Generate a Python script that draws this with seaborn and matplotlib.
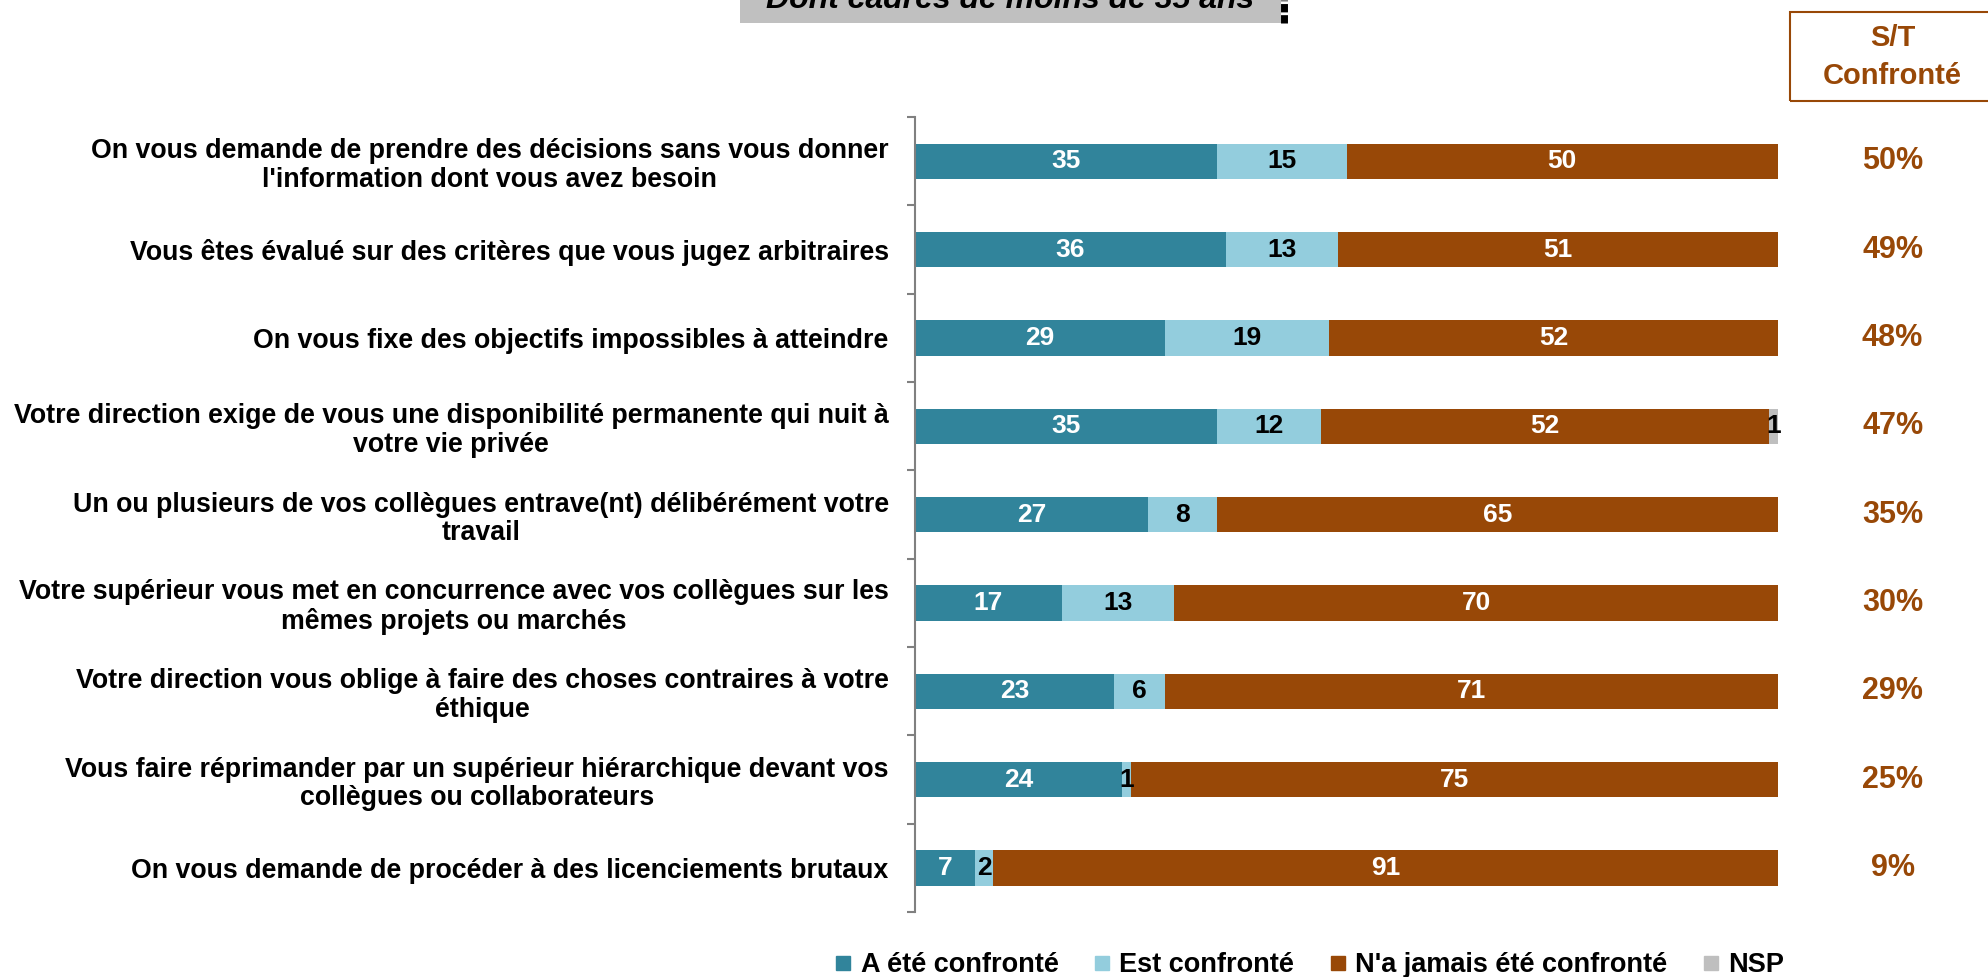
import numpy as np
import pandas as pd
import matplotlib
matplotlib.use("Agg")
import matplotlib.pyplot as plt
import seaborn as sns
from matplotlib.patches import Rectangle
from matplotlib.lines import Line2D
from matplotlib.transforms import blended_transform_factory

# --- data ---
items = [
    "On vous demande de prendre des décisions sans vous donner\nl'information dont vous avez besoin",
    "Vous êtes évalué sur des critères que vous jugez arbitraires",
    "On vous fixe des objectifs impossibles à atteindre",
    "Votre direction exige de vous une disponibilité permanente qui nuit à\nvotre vie privée",
    "Un ou plusieurs de vos collègues entrave(nt) délibérément votre\ntravail",
    "Votre supérieur vous met en concurrence avec vos collègues sur les\nmêmes projets ou marchés",
    "Votre direction vous oblige à faire des choses contraires à votre\néthique",
    "Vous faire réprimander par un supérieur hiérarchique devant vos\ncollègues ou collaborateurs",
    "On vous demande de procéder à des licenciements brutaux",
]
a_ete = [35, 36, 29, 35, 27, 17, 23, 24, 7]
est = [15, 13, 19, 12, 8, 13, 6, 1, 2]
jamais = [50, 51, 52, 52, 65, 70, 71, 75, 91]
nsp = [0, 0, 0, 1, 0, 0, 0, 0, 0]
st_confronte = [50, 49, 48, 47, 35, 30, 29, 25, 9]

series_names = ["A été confronté", "Est confronté", "N'a jamais été confronté", "NSP"]
colors = ["#31849B", "#93CDDD", "#984807", "#BFBFBF"]
text_colors = ["white", "black", "white", "black"]
brown = "#984807"

sns.set_style("white")
plt.rcParams['font.family'] = ['Liberation Sans', 'DejaVu Sans']
plt.rcParams['font.weight'] = 'bold'
plt.rcParams['text.color'] = 'black'
plt.rcParams['ytick.color'] = 'black'

df = pd.DataFrame({"item": items, "a": a_ete, "e": est, "j": jamais, "n": nsp})
df["c1"] = df["a"]
df["c2"] = df["c1"] + df["e"]
df["c3"] = df["c2"] + df["j"]
df["c4"] = df["c3"] + df["n"]

fig = plt.figure(figsize=(19.88, 9.77), dpi=100)
ax = fig.add_axes([0.4603, 0.0665, 0.4341, 0.8137])

# stacked bars drawn as overlapping cumulative totals
for col, color in zip(["c4", "c3", "c2", "c1"], colors[::-1]):
    sns.barplot(data=df, x=col, y="item", order=items, color=color, saturation=1,
                width=0.4, errorbar=None, orient="h", ax=ax, linewidth=0)

# segment labels
seg_vals = [a_ete, est, jamais, nsp]
for i in range(len(items)):
    left = 0
    for k, vals in enumerate(seg_vals):
        v = vals[i]
        if v > 0:
            ax.text(left + v / 2, i, str(v), ha="center", va="center",
                    color=text_colors[k], fontsize=19, fontweight="bold")
        left += v

ax.set_xlim(0, 100)
ax.set_ylim(8.5, -0.5)
ax.set_xlabel("")
ax.set_ylabel("")
ax.xaxis.set_visible(False)
for s in ["top", "right", "bottom"]:
    ax.spines[s].set_visible(False)
ax.spines["left"].set_color("#808080")
ax.spines["left"].set_linewidth(1.5)

ax.set_yticks(np.arange(-0.5, 9, 1), minor=True)
ax.tick_params(axis="y", which="major", length=0, pad=19)
ax.tick_params(axis="y", which="minor", length=6, width=1.5, color="#808080", left=True)
for lab in ax.get_yticklabels():
    lab.set_fontsize(19.3)
    lab.set_fontweight("bold")
    lab.set_color("black")
    lab.set_multialignment("center")
    lab.set_linespacing(1.12)

# S/T column
trans = blended_transform_factory(fig.transFigure, ax.transData)
for i, v in enumerate(st_confronte):
    ax.text(0.952, i, f"{v}%", transform=trans, ha="center", va="center",
            color=brown, fontsize=22, fontweight="bold", clip_on=False)

fig.patches.append(Rectangle((0.9004, 0.8966), 0.12, 0.0911, transform=fig.transFigure,
                             fill=False, edgecolor=brown, linewidth=1.5))
fig.text(0.952, 0.9417, "S/T\nConfronté", ha="center", va="center", color=brown,
         fontsize=21, fontweight="bold", linespacing=1.45)

# title box (cut at top)
fig.patches.append(Rectangle((0.3722, 0.9765), 0.272, 0.04, transform=fig.transFigure,
                             facecolor="#C0C0C0", edgecolor="none"))
fig.text(0.508, 0.9915, "Dont cadres de moins de 35 ans", ha="center", va="baseline",
         fontsize=23, fontweight="bold", fontstyle="italic", color="black")
fig.lines.append(Line2D([0.6461, 0.6461], [0.9765, 1.0], transform=fig.transFigure,
                        color="black", linewidth=5, linestyle=(0, (1.2, 0.4))))

# legend
handles = [Line2D([], [], marker="s", linestyle="", color=c, markersize=10) for c in colors]
fig.legend(handles, series_names, loc="center", bbox_to_anchor=(0.658, 0.012), ncol=4,
           frameon=False, handlelength=0.8, handletextpad=0.25,
           columnspacing=1.2, prop={"weight": "bold", "size": 19.5})

fig.savefig("out.png", dpi=100)
